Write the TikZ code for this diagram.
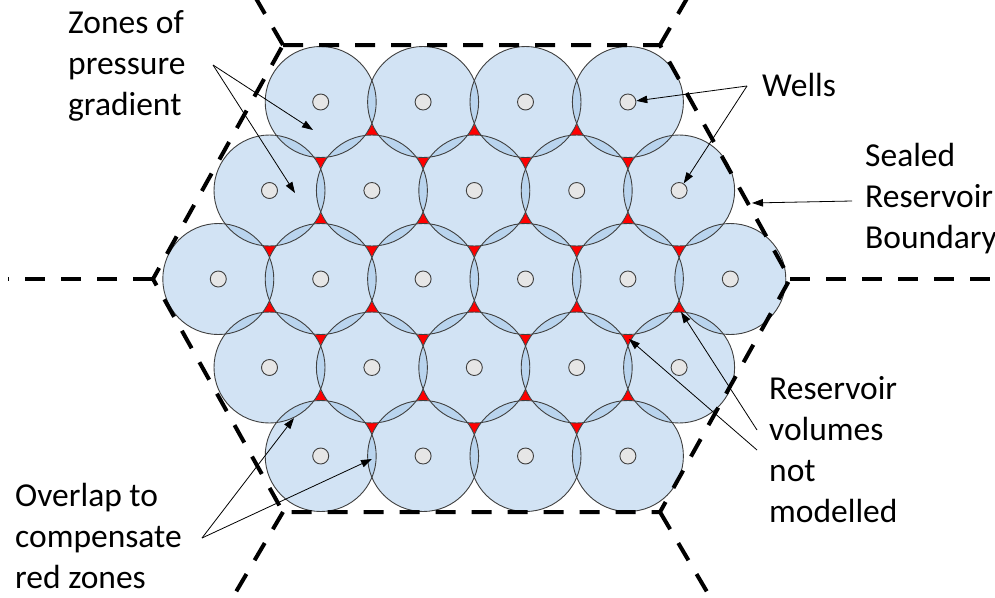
\documentclass[tikz,border=0pt]{standalone}
\usepackage{fontspec}
\setmainfont{Carlito}
\usetikzlibrary{arrows.meta}
\definecolor{zonefill}{RGB}{155,194,230}
\definecolor{edgegray}{RGB}{64,64,64}
\definecolor{wellfill}{RGB}{230,230,230}
\definecolor{redzone}{RGB}{255,0,0}
\newcommand\redtri[3]{%
  \pgfmathsetmacro\tx{474.3+102.4*(#1)}%
  \fill[redzone] (\tx,{#2-7*(#3)}) -- ({\tx-6.06},{#2+3.5*(#3)}) -- ({\tx+6.06},{#2+3.5*(#3)}) -- cycle;}
\begin{document}
\begin{tikzpicture}[x=1pt,y=-1pt,
  zone/.style={fill=zonefill,fill opacity=0.45},
  zoneedge/.style={draw=edgegray,line width=0.9pt},
  well/.style={circle,draw=edgegray,fill=wellfill,line width=0.9pt,minimum size=16pt,inner sep=0pt},
  boundary/.style={line width=4pt,dash pattern=on 20pt off 16pt},
  annot/.style={font=\fontsize{33.5}{41}\selectfont,align=left,anchor=base west,inner sep=0pt},
  pointer/.style={line width=0.8pt,-{Triangle[length=11pt,width=7.5pt]}},
]
\useasboundingbox (0,0) rectangle (995,597);
\clip (0,0) rectangle (995,597);

% zone fills
\foreach \r/\y/\n in {1/102/4,2/190.5/5,3/279/6,4/367.5/5,5/456/4}{
  \foreach \i in {1,...,\n}{
    \pgfmathsetmacro\cx{474.3+102.4*(\i-(\n+1)/2)}
    \fill[zone] (\cx,\y) circle[radius=55.5pt];
  }
}
% red zones not modelled
\foreach \o in {-1,0,1}{\redtri{\o}{131.5}{1}}
\foreach \o in {-1.5,-0.5,0.5,1.5}{\redtri{\o}{161}{-1}}
\foreach \o in {-1.5,-0.5,0.5,1.5}{\redtri{\o}{220}{1}}
\foreach \o in {-2,-1,0,1,2}{\redtri{\o}{249.5}{-1}}
\foreach \o in {-2,-1,0,1,2}{\redtri{\o}{308.5}{1}}
\foreach \o in {-1.5,-0.5,0.5,1.5}{\redtri{\o}{338}{-1}}
\foreach \o in {-1.5,-0.5,0.5,1.5}{\redtri{\o}{397}{1}}
\foreach \o in {-1,0,1}{\redtri{\o}{426.5}{-1}}

% zone outlines and wells
\foreach \r/\y/\n in {1/102/4,2/190.5/5,3/279/6,4/367.5/5,5/456/4}{
  \foreach \i in {1,...,\n}{
    \pgfmathsetmacro\cx{474.3+102.4*(\i-(\n+1)/2)}
    \draw[zoneedge] (\cx,\y) circle[radius=55.5pt];
    \node[well] (w\r-\i) at (\cx,\y) {};
  }
}

% sealed reservoir boundary
\coordinate (TL) at (283,45);
\coordinate (TR) at (660,45);
\coordinate (R) at (790,279);
\coordinate (BR) at (660,512);
\coordinate (BL) at (283,512);
\coordinate (L) at (153,279);
\coordinate (eL) at (8,279);
\coordinate (eR) at (1000,279);
\coordinate (eTL) at (254,-5);
\coordinate (eTR) at (689,-5);
\coordinate (eBR) at (713,602);
\coordinate (eBL) at (230,602);
\draw[boundary] (TL) -- (TR) -- (R) -- (BR) -- (BL) -- (L) -- cycle;
\draw[boundary] (L) -- (eL);
\draw[boundary] (R) -- (eR);
\draw[boundary] (TL) -- (eTL);
\draw[boundary] (TR) -- (eTR);
\draw[boundary] (BR) -- (eBR);
\draw[boundary] (BL) -- (eBL);

% labels (anchored at the baseline of the last line)
\node[annot] (zones) at (68,115) {Zones of\\pressure\\gradient};
\node[annot] (wells) at (762,96) {Wells};
\node[annot] (sealed) at (865,248) {Sealed\\Reservoir\\Boundary};
\node[annot] (volumes) at (769,522) {Reservoir\\volumes\\not\\modelled};
\node[annot] (overlap) at (15,588) {Overlap to\\compensate\\red zones};

% pointers
\coordinate (zs) at (213,65);
\coordinate (zt1) at (313,130);
\coordinate (zt2) at (295,193);
\draw[pointer] (zs) -- (zt1);
\draw[pointer] (zs) -- (zt2);
\coordinate (ws) at (747,86);
\draw[pointer] (ws) -- (w1-4);
\draw[pointer] (ws) -- (w2-5);
\coordinate (ss) at (852,201);
\coordinate (st) at (752,203);
\draw[pointer] (ss) -- (st);
\coordinate (rs1) at (757,430);
\coordinate (rt1) at (681,312);
\coordinate (rs2) at (757,450);
\coordinate (rt2) at (629,339);
\draw[pointer] (rs1) -- (rt1);
\draw[pointer] (rs2) -- (rt2);
\coordinate (os) at (202,538);
\coordinate (ot1) at (294,418);
\coordinate (ot2) at (372,459);
\draw[pointer] (os) -- (ot1);
\draw[pointer] (os) -- (ot2);
\end{tikzpicture}
\end{document}
